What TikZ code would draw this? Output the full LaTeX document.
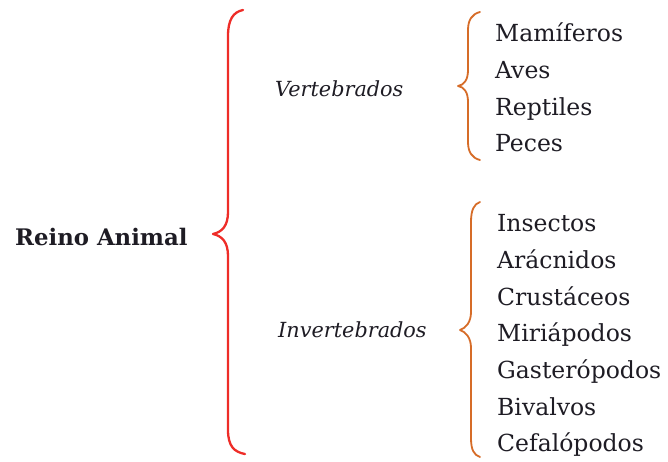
\documentclass[tikz,border=0pt]{standalone}
\usepackage{fontspec}
\setmainfont{DejaVu Serif}
\definecolor{bracered}{RGB}{238,45,40}
\definecolor{braceorange}{RGB}{214,108,40}
\definecolor{ink}{RGB}{30,28,36}
\tikzset{
  item/.style={anchor=base west, inner sep=0pt, text=ink, font=\fontsize{23.5}{28}\selectfont},
  group/.style={anchor=base west, inner sep=0pt, text=ink, font=\fontsize{20.8}{25}\selectfont\itshape},
  root/.style={anchor=base west, inner sep=0pt, text=ink, font=\fontsize{22.8}{27}\selectfont\bfseries},
  redbrace/.style={draw=bracered, line width=2.3pt, line cap=round, line join=round},
  orbrace/.style={draw=braceorange, line width=1.8pt, line cap=round, line join=round}
}
\begin{document}
\begin{tikzpicture}[x=1pt,y=-1pt]
\useasboundingbox (0,0) rectangle (668,462);
% root
\node[root] (reino) at (15,245) {Reino Animal};
% red brace
\draw[redbrace] (243,10) .. controls (233,12) and (228,20) .. (228,36) -- (228,212)
  .. controls (228,226) and (222,232) .. (213,234)
  .. controls (222,236) and (228,242) .. (228,256) -- (228,430)
  .. controls (228,446) and (234,452) .. (245,454);
% groups
\node[group] (vert) at (275,97) {Vertebrados};
\node[group] (invert) at (278,337) {Invertebrados};
% orange brace 1
\draw[orbrace] (480,12) .. controls (472,14) and (468,20) .. (468,30) -- (468,70)
  .. controls (468,80) and (464,85) .. (458,86)
  .. controls (464,87) and (468,92) .. (468,102) -- (468,142)
  .. controls (468,152) and (472,158) .. (480,160);
% orange brace 2
\draw[orbrace] (480,202) .. controls (474,204) and (471,210) .. (471,222) -- (471,312)
  .. controls (471,322) and (466,328) .. (460,330)
  .. controls (466,332) and (471,338) .. (471,348) -- (471,438)
  .. controls (471,450) and (474,455) .. (480,457);
% vertebrate items
\node[item] (mam) at (495,41.7) {Mamíferos};
\node[item] (ave) at (495,79) {Aves};
\node[item] (rep) at (495,115.5) {Reptiles};
\node[item] (pec) at (495,152) {Peces};
% invertebrate items
\node[item] (ins) at (497,231.7) {Insectos};
\node[item] (ara) at (497,268.4) {Arácnidos};
\node[item] (cru) at (497,305.1) {Crustáceos};
\node[item] (mir) at (497,341.8) {Miriápodos};
\node[item] (gas) at (497,378.5) {Gasterópodos};
\node[item] (biv) at (497,415.2) {Bivalvos};
\node[item] (cef) at (497,451.9) {Cefalópodos};
\end{tikzpicture}
\end{document}
